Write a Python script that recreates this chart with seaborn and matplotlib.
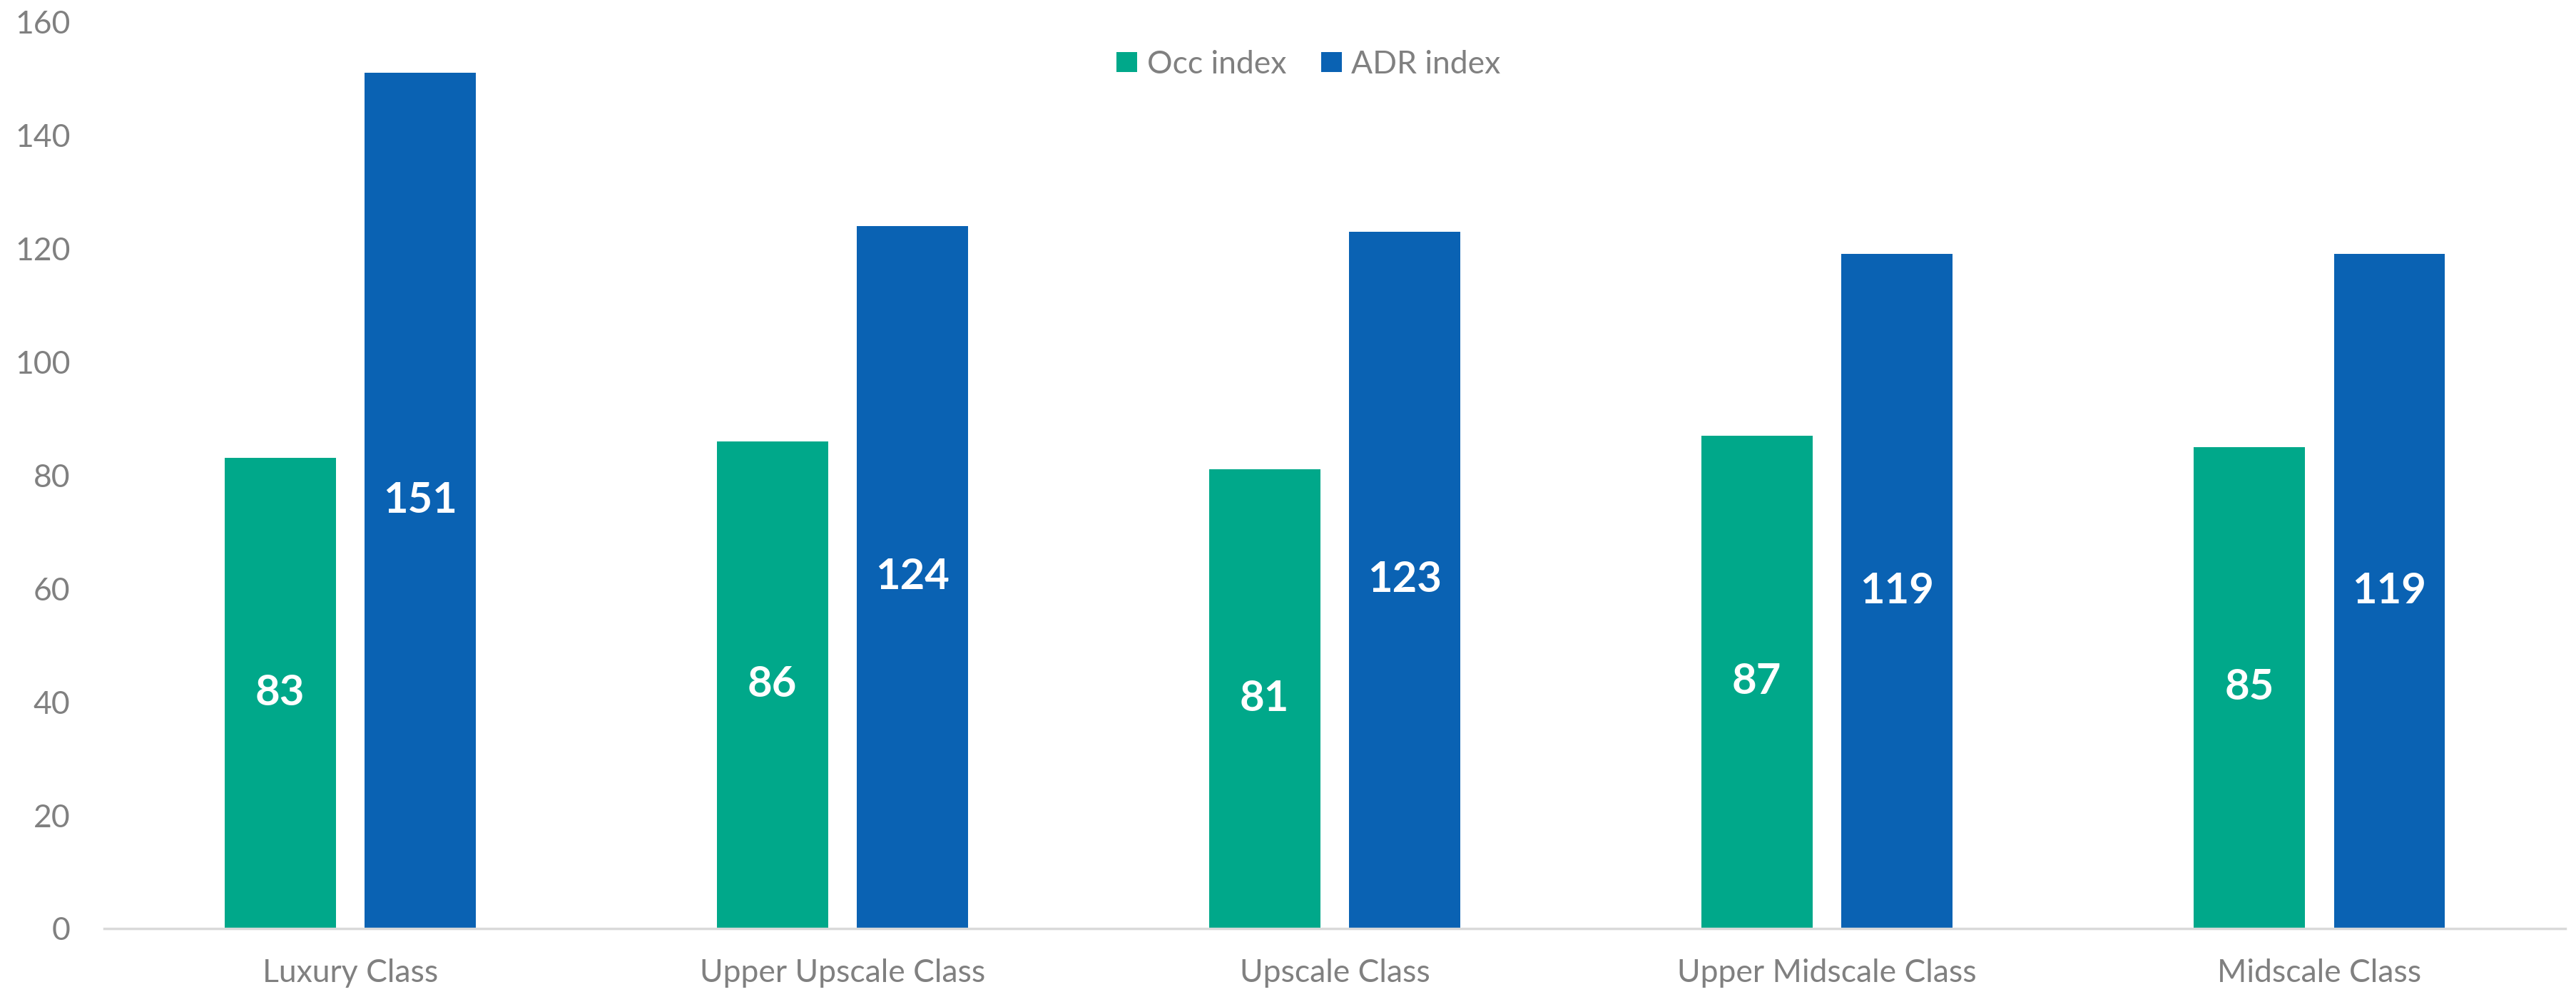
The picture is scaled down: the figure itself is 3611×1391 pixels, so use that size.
import matplotlib
matplotlib.use("Agg")
import matplotlib.pyplot as plt
import seaborn as sns
import pandas as pd

# ---- data ----
categories = ["Luxury Class", "Upper Upscale Class", "Upscale Class",
              "Upper Midscale Class", "Midscale Class"]
occ_index = [83, 86, 81, 87, 85]
adr_index = [151, 124, 123, 119, 119]
series_names = ["Occ index", "ADR index"]
y_ticks = [0, 20, 40, 60, 80, 100, 120, 140, 160]

colors = ["#00A88A", "#0A62B3"]
text_gray = "#808080"

df = pd.DataFrame({
    "Class": categories * 2,
    "Series": [series_names[0]] * len(categories) + [series_names[1]] * len(categories),
    "Value": occ_index + adr_index,
})

sns.set_theme(style="white")
plt.rcParams["font.family"] = ["Lato", "DejaVu Sans"]

fig = plt.figure(figsize=(36.11, 13.91), dpi=100)
ax = fig.add_axes([0.0404, 0.064, 0.9555, 0.914])

sns.barplot(data=df, x="Class", y="Value", hue="Series", order=categories,
            hue_order=series_names, palette=colors, width=0.57, gap=0.207,
            linewidth=0, edgecolor="none", saturation=1, ax=ax, legend=True)

for cont in ax.containers:
    ax.bar_label(cont, label_type="center", color="white", fontsize=43,
                 fontweight="bold")

ax.set_ylim(0, 160)
ax.set_xlim(-0.5, len(categories) - 0.5)
ax.set_yticks(y_ticks)
ax.set_yticklabels([str(t) for t in y_ticks])
ax.set_xlabel("")
ax.set_ylabel("")
ax.tick_params(axis="both", length=0, labelsize=32, colors=text_gray)
ax.tick_params(axis="y", pad=34)
ax.tick_params(axis="x", pad=30)
for s in ["top", "right", "left"]:
    ax.spines[s].set_visible(False)
ax.spines["bottom"].set_color("#D9D9D9")
ax.spines["bottom"].set_linewidth(2.5)
ax.grid(False)

leg = ax.legend(loc="center", bbox_to_anchor=(0.508, 0.935),
                bbox_transform=fig.transFigure, ncol=2, frameon=False,
                fontsize=32, handlelength=0.65, handleheight=0.6,
                handletextpad=0.3, columnspacing=1.1)
for t in leg.get_texts():
    t.set_color(text_gray)

fig.savefig("out.png", dpi=100, facecolor="white")
